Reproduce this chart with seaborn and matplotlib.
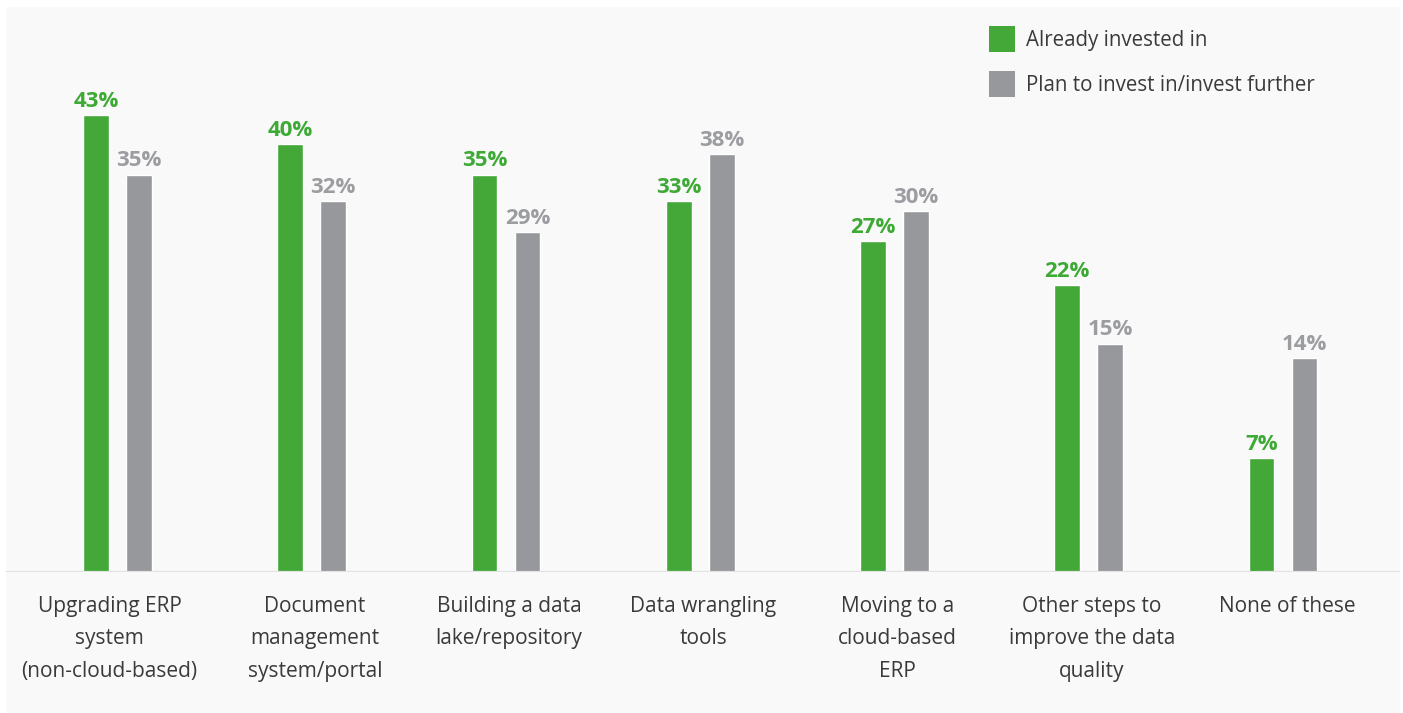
import matplotlib
matplotlib.use("Agg")
import matplotlib.pyplot as plt
from matplotlib.patches import Patch, Rectangle
from matplotlib.transforms import ScaledTranslation
import seaborn as sns
import pandas as pd

# ---- data -------------------------------------------------------------
categories = [
    "Upgrading ERP\nsystem\n(non-cloud-based)",
    "Document\nmanagement\nsystem/portal",
    "Building a data\nlake/repository",
    "Data wrangling\ntools",
    "Moving to a\ncloud-based\nERP",
    "Other steps to\nimprove the data\nquality",
    "None of these",
]
series_names = ["Already invested in", "Plan to invest in/invest further"]
already_labels = [43, 40, 35, 33, 27, 22, 7]
plan_labels = [35, 32, 29, 38, 30, 15, 14]
# bar heights as drawn in the reference (same units as the labels)
already_drawn = [43.0, 40.3, 37.4, 34.9, 31.1, 27.0, 10.7]
plan_drawn = [37.4, 34.9, 32.0, 39.3, 34.0, 21.5, 20.1]

GREEN = "#43a838"
GRAY = "#97989c"
GREEN_TXT = "#3eaa36"
GRAY_TXT = "#9c9da1"
TEXT = "#3a3a3a"

df = pd.DataFrame({
    "category": categories * 2,
    "series": [series_names[0]] * len(categories) + [series_names[1]] * len(categories),
    "height": already_drawn + plan_drawn,
    "label": already_labels + plan_labels,
})

# ---- figure -----------------------------------------------------------
W, H = 1403, 713
sns.set_theme(style="white")
plt.rcParams["font.family"] = ["Open Sans", "DejaVu Sans"]

fig = plt.figure(figsize=(W / 100, H / 100), dpi=100, facecolor="white")
fig.patches.append(Rectangle((6 / W, 0), 1394 / W, 706 / H, transform=fig.transFigure,
                             facecolor="#f9f9f9", edgecolor="none", zorder=-10))
ax = fig.add_axes([6 / W, 141 / H, 1394 / W, 565 / H])
ax.set_facecolor("none")

sns.barplot(data=df, x="category", y="height", hue="series",
            palette=[GREEN, GRAY], width=0.443, gap=0.4, dodge=True,
            saturation=1, legend=False, ax=ax, zorder=3)

ax.set_xlim((6 - 117.5) / 194.25, (1400 - 117.5) / 194.25)
ax.set_ylim(0, 565 / (457 / 43.0))
ax.axhline(0, color="#e2e2e2", lw=2.3, zorder=4)

# value labels
for cont, labels, col in zip(ax.containers, [already_labels, plan_labels], [GREEN_TXT, GRAY_TXT]):
    for bar, lab in zip(cont, labels):
        ax.annotate(f"{lab}%", (bar.get_x() + bar.get_width() / 2, bar.get_height()),
                    xytext=(0, 5.8), textcoords="offset points", ha="center", va="baseline",
                    fontsize=16, fontweight="bold", color=col, zorder=5)

for s in ax.spines.values():
    s.set_visible(False)
ax.set_xlabel("")
ax.set_ylabel("")
ax.set_yticks([])
ax.tick_params(axis="x", length=0, pad=17, labelsize=15, labelcolor=TEXT)
shifts = [-8, 3, 3, 3, 3, 3, 4]
for t, dx in zip(ax.get_xticklabels(), shifts):
    t.set_linespacing(1.72)
    t.set_transform(t.get_transform() + ScaledTranslation(dx / 100, 0, fig.dpi_scale_trans))

handles = [Patch(facecolor=GREEN, edgecolor="none"), Patch(facecolor=GRAY, edgecolor="none")]
fig.legend(handles, series_names, loc="upper left",
           bbox_to_anchor=(989 / W, 1 - 26 / H), bbox_transform=fig.transFigure,
           frameon=False, fontsize=14.8, labelcolor=TEXT,
           handlelength=1.26, handleheight=1.60, handletextpad=0.55,
           labelspacing=0.9, borderpad=0, borderaxespad=0)

fig.savefig("out.png", dpi=100, facecolor="white")
